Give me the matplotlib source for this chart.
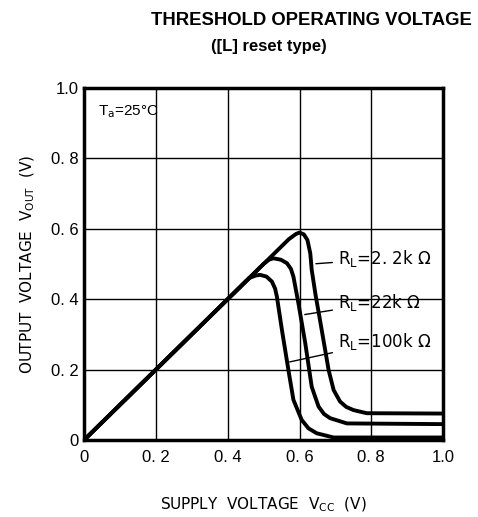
import matplotlib.pyplot as plt

plt.rcParams['font.family'] = ['Liberation Sans', 'DejaVu Sans']

# curves (supply voltage, output voltage)
x_2k2 = [0.0, 0.57, 0.59, 0.60, 0.612, 0.622, 0.63, 0.634, 0.645, 0.657, 0.669, 0.681, 0.695, 0.713, 0.73, 0.75, 0.787, 1.0]
y_2k2 = [0.0, 0.57, 0.585, 0.589, 0.584, 0.568, 0.53, 0.483, 0.41, 0.341, 0.27, 0.199, 0.142, 0.109, 0.094, 0.085, 0.076, 0.075]

x_22k = [0.0, 0.50, 0.515, 0.527, 0.548, 0.565, 0.576, 0.583, 0.597, 0.616, 0.634, 0.653, 0.668, 0.685, 0.732, 1.0]
y_22k = [0.0, 0.50, 0.512, 0.516, 0.512, 0.502, 0.486, 0.464, 0.388, 0.275, 0.151, 0.095, 0.074, 0.062, 0.047, 0.045]

x_100k = [0.0, 0.46, 0.478, 0.49, 0.508, 0.523, 0.532, 0.537, 0.551, 0.569, 0.583, 0.606, 0.625, 0.648, 0.695, 1.0]
y_100k = [0.0, 0.46, 0.467, 0.469, 0.464, 0.45, 0.43, 0.407, 0.3125, 0.199, 0.114, 0.057, 0.033, 0.019, 0.007, 0.007]

ticks = [0, 0.2, 0.4, 0.6, 0.8, 1.0]
xtick_labels = ['0', '0. 2', '0. 4', '0. 6', '0. 8', '1.0']
ytick_labels = ['0', '0. 2', '0. 4', '0. 6', '0. 8', '1.0']

fig = plt.figure(figsize=(4.78, 5.17), dpi=100)
ax = fig.add_axes([0.176, 0.149, 0.751, 0.681])

ax.plot(x_2k2, y_2k2, color='black', lw=2.8, solid_joinstyle='round')
ax.plot(x_22k, y_22k, color='black', lw=2.8, solid_joinstyle='round')
ax.plot(x_100k, y_100k, color='black', lw=2.8, solid_joinstyle='round')

ax.set_xlim(0, 1.0)
ax.set_ylim(0, 1.0)
ax.set_xticks(ticks)
ax.set_yticks(ticks)
ax.set_xticklabels(xtick_labels, fontsize=12)
ax.set_yticklabels(ytick_labels, fontsize=12)
ax.tick_params(axis='x', length=0, pad=7)
ax.tick_params(axis='y', length=0, pad=4)
ax.grid(True, color='black', lw=1.0)
for s in ax.spines.values():
    s.set_linewidth(2.5)

ax.text(0.04, 0.955, r'T$_{\rm a}$=25°C', fontsize=11, va='top', transform=ax.transAxes)

# labels with leader lines
lab = dict(fontsize=12, va='center', family=['DejaVu Sans'],
           arrowprops=dict(arrowstyle='-', color='black', lw=1))
ax.annotate(r'R$_{\rm L}$=2. 2k $\Omega$', xy=(0.638, 0.50), xytext=(0.707, 0.515), **lab)
ax.annotate(r'R$_{\rm L}$=22k $\Omega$', xy=(0.607, 0.355), xytext=(0.707, 0.39), **lab)
ax.annotate(r'R$_{\rm L}$=100k $\Omega$', xy=(0.565, 0.22), xytext=(0.707, 0.28), **lab)

ax.set_xlabel(r'SUPPLY  VOLTAGE  V$_{\rm CC}$  (V)', fontsize=11, labelpad=22,
              family=['DejaVu Sans'])
ax.set_ylabel(r'OUTPUT  VOLTAGE  V$_{\rm OUT}$  (V)', fontsize=11, labelpad=10,
              family=['DejaVu Sans'])

fig.text(0.651, 0.961, 'THRESHOLD OPERATING VOLTAGE', fontsize=13.3, fontweight='bold',
         ha='center', va='center')
fig.text(0.563, 0.911, '([L] reset type)', fontsize=12, fontweight='bold',
         ha='center', va='center')

plt.savefig('out.png', dpi=100)
